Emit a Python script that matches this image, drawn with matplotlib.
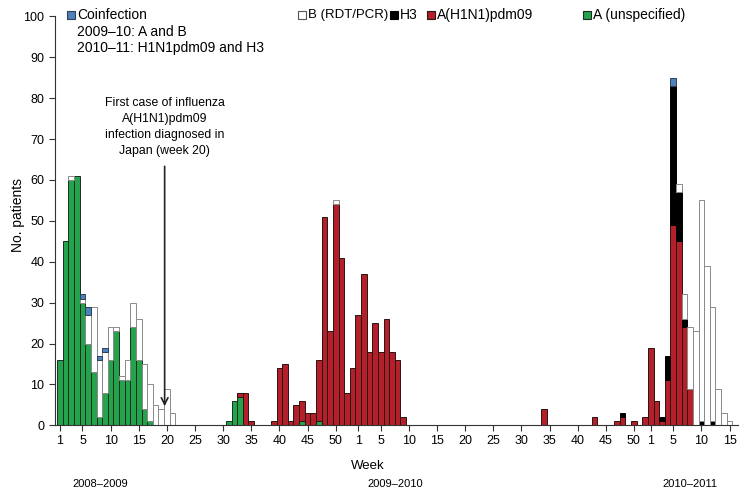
import matplotlib

matplotlib.use("Agg")
import matplotlib.pyplot as plt
from matplotlib.patches import Rectangle
import numpy as np

plt.rcParams["font.family"] = ["Liberation Sans", "DejaVu Sans"]

# weeks on the axis: 2009 (53 ISO weeks), 2010 (52), 2011 (1-16)
YEAR_START = {2009: 0, 2010: 53, 2011: 105}
N_WEEKS = 121

# patients per (year, week)
a_unspecified = {
    (2009, 1): 16, (2009, 2): 45, (2009, 3): 60, (2009, 4): 61, (2009, 5): 30,
    (2009, 6): 20, (2009, 7): 13, (2009, 8): 2, (2009, 9): 8, (2009, 10): 16,
    (2009, 11): 23, (2009, 12): 11, (2009, 13): 11, (2009, 14): 24, (2009, 15): 16,
    (2009, 16): 4, (2009, 17): 1, (2009, 31): 1, (2009, 32): 6, (2009, 33): 7,
    (2009, 44): 1, (2009, 47): 1,
}
h1n1pdm09 = {
    (2009, 33): 1, (2009, 34): 8, (2009, 35): 1, (2009, 39): 1, (2009, 40): 14,
    (2009, 41): 15, (2009, 42): 1, (2009, 43): 5, (2009, 44): 5, (2009, 45): 3,
    (2009, 46): 3, (2009, 47): 15, (2009, 48): 51, (2009, 49): 23, (2009, 50): 54,
    (2009, 51): 41, (2009, 52): 8, (2009, 53): 14,
    (2010, 1): 27, (2010, 2): 37, (2010, 3): 18, (2010, 4): 25, (2010, 5): 18,
    (2010, 6): 26, (2010, 7): 18, (2010, 8): 16, (2010, 9): 2, (2010, 34): 4,
    (2010, 43): 2, (2010, 47): 1, (2010, 48): 2, (2010, 50): 1, (2010, 52): 2,
    (2011, 1): 19, (2011, 2): 6, (2011, 3): 1, (2011, 4): 11, (2011, 5): 49,
    (2011, 6): 45, (2011, 7): 24, (2011, 8): 9,
}
h3 = {
    (2010, 48): 1, (2011, 3): 1, (2011, 4): 6, (2011, 5): 34, (2011, 6): 12,
    (2011, 7): 2, (2011, 10): 1, (2011, 12): 1,
}
b_rdt_pcr = {
    (2009, 3): 1, (2009, 5): 1, (2009, 6): 7, (2009, 7): 16, (2009, 8): 14,
    (2009, 9): 10, (2009, 10): 8, (2009, 11): 1, (2009, 12): 1, (2009, 13): 5,
    (2009, 14): 6, (2009, 15): 10, (2009, 16): 11, (2009, 17): 9, (2009, 18): 5,
    (2009, 19): 4, (2009, 20): 9, (2009, 21): 3, (2009, 50): 1,
    (2011, 6): 2, (2011, 7): 6, (2011, 8): 15, (2011, 9): 23, (2011, 10): 54,
    (2011, 11): 39, (2011, 12): 28, (2011, 13): 9, (2011, 14): 3, (2011, 15): 1,
}
coinfection = {
    (2009, 5): 1, (2009, 6): 2, (2009, 8): 1, (2009, 9): 1, (2011, 5): 2,
}

tick_weeks = {
    2009: [1, 5, 10, 15, 20, 25, 30, 35, 40, 45, 50],
    2010: [1, 5, 10, 15, 20, 25, 30, 35, 40, 45, 50],
    2011: [1, 5, 10, 15],
}
season_labels = ["2008–2009", "2009–2010", "2010–2011"]


def week_index(year, week):
    return YEAR_START[year] + week - 1


def to_array(series):
    values = np.zeros(N_WEEKS)
    for (year, week), n in series.items():
        values[week_index(year, week)] = n
    return values


# stacking order bottom -> top
layers = [
    ("A (unspecified)", a_unspecified, "#22a34c", "#1e2a20"),
    ("A(H1N1)pdm09", h1n1pdm09, "#b3202a", "#2a1414"),
    ("H3", h3, "#000000", "#000000"),
    ("B (RDT/PCR)", b_rdt_pcr, "#ffffff", "#8a8a8a"),
    ("Coinfection", coinfection, "#4f81bd", "#2f3f55"),
]

fig = plt.figure(figsize=(7.5, 4.94), dpi=100)
ax = fig.add_axes([0.073, 0.139, 0.911, 0.828])

x = np.arange(N_WEEKS)
bottom = np.zeros(N_WEEKS)
for name, series, face, edge in layers:
    vals = to_array(series)
    mask = vals > 0
    ax.bar(x[mask], vals[mask], width=1.0, bottom=bottom[mask], color=face,
           edgecolor=edge, linewidth=0.7, zorder=2)
    bottom += vals

ax.set_xlim(-0.93, 120.5)
ax.set_ylim(0, 100)
ax.set_yticks(np.arange(0, 101, 10))
ticks, labels = [], []
for year, weeks in tick_weeks.items():
    for w in weeks:
        ticks.append(week_index(year, w))
        labels.append(str(w))
ax.set_xticks(ticks)
ax.set_xticklabels(labels)
ax.tick_params(axis="both", labelsize=9, direction="out", length=4, width=0.8,
               color="#333333")
ax.tick_params(axis="x", pad=3)
for side in ["top", "right"]:
    ax.spines[side].set_visible(False)
for side in ["left", "bottom"]:
    ax.spines[side].set_color("#333333")
    ax.spines[side].set_linewidth(0.8)

W, H = 750, 494
fig.text(18 / W, 1 - 215 / H, "No. patients", rotation=90, ha="center", va="center", fontsize=10)
fig.text(368 / W, 1 - 466 / H, "Week", ha="center", va="center", fontsize=9.5)
for label, px in zip(season_labels, [100, 395, 690]):
    fig.text(px / W, 1 - 484 / H, label, ha="center", va="center", fontsize=8)

# first case annotation
arrow_x = 18.6
ax.text(arrow_x, 65.6, "First case of influenza\nA(H1N1)pdm09\ninfection diagnosed in\nJapan (week 20)",
        ha="center", va="bottom", fontsize=8.8, linespacing=1.45)
ax.annotate("", xy=(arrow_x, 4.0), xytext=(arrow_x, 64.0),
            arrowprops=dict(arrowstyle="->", lw=1.2, color="#222222",
                            mutation_scale=12))


# legend drawn in figure pixels
def legend_item(px, py, face, edge, text, size_pt=10):
    size = 8
    fig.patches.append(Rectangle(((px - size / 2) / W, 1 - (py + size / 2) / H), size / W, size / H,
                                 transform=fig.transFigure, facecolor=face,
                                 edgecolor=edge, linewidth=0.8))
    fig.text((px + 6) / W, 1 - py / H, text, ha="left", va="center", fontsize=size_pt)


legend_item(71, 15, "#4f81bd", "#2f3f55", "Coinfection")
fig.text(77 / W, 1 - 32 / H, "2009–10: A and B", ha="left", va="center", fontsize=10)
fig.text(77 / W, 1 - 48 / H, "2010–11: H1N1pdm09 and H3", ha="left", va="center", fontsize=10)
legend_item(302, 15, "#ffffff", "#555555", "B (RDT/PCR)", 9.5)
legend_item(394, 15, "#000000", "#000000", "H3")
legend_item(431, 15, "#b3202a", "#2a1414", "A(H1N1)pdm09")
legend_item(587, 15, "#22a34c", "#1e2a20", "A (unspecified)")

fig.savefig("out.png", dpi=100)
